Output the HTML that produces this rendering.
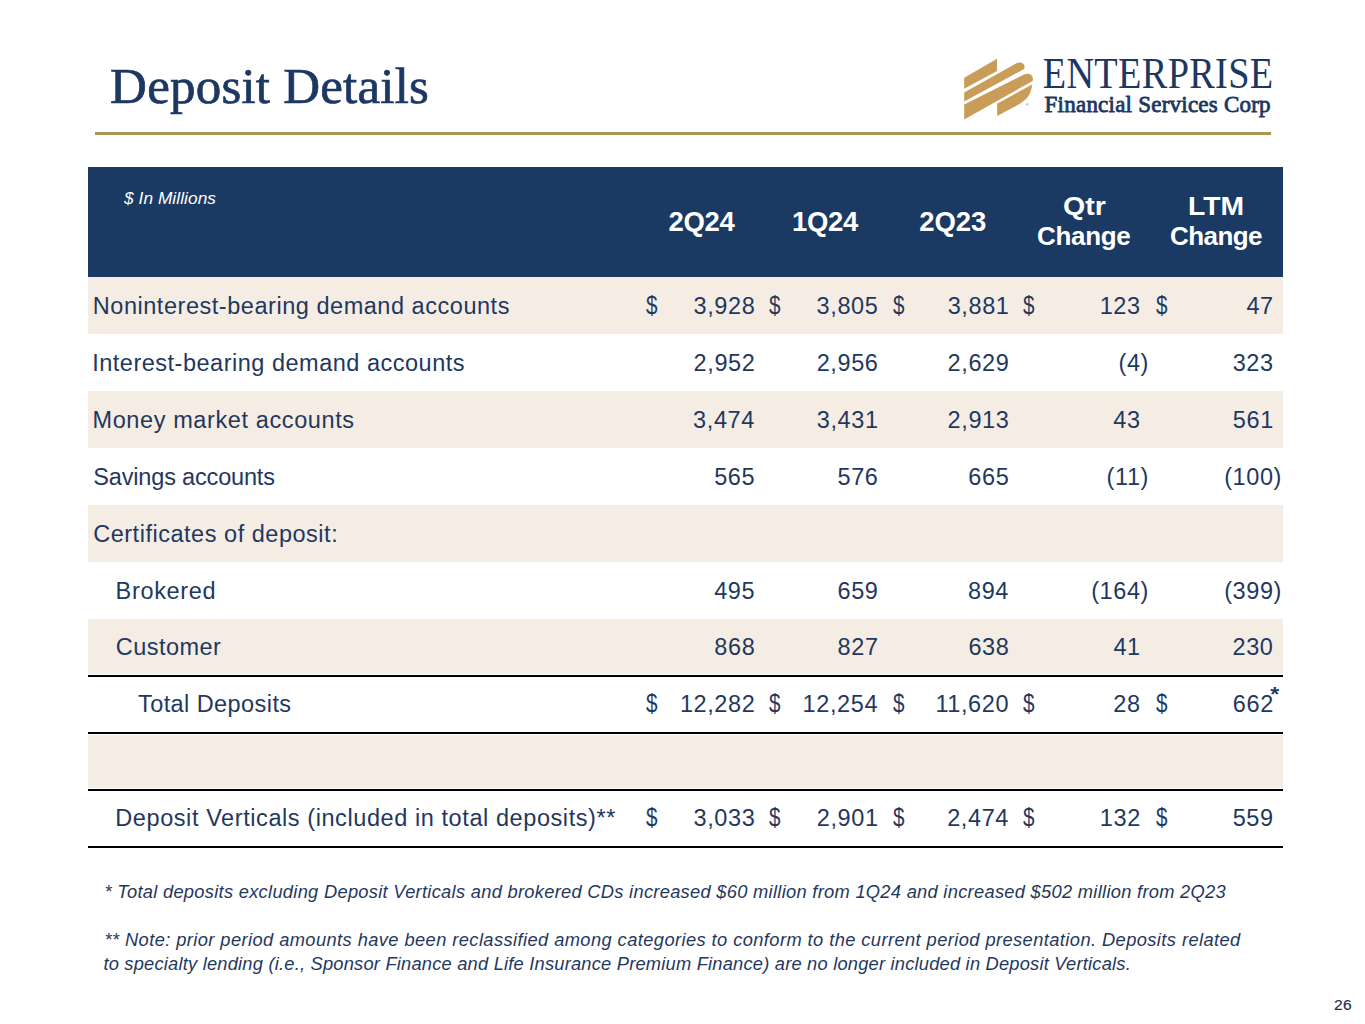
<!DOCTYPE html>
<html><head><meta charset="utf-8"><style>
html,body{margin:0;padding:0;background:#fff;}
body{width:1365px;height:1024px;position:relative;overflow:hidden;}
.t{position:absolute;white-space:nowrap;}
.r{position:absolute;}
</style></head><body>

<div class="t" style="left:110.10px;top:60.89px;font-size:51px;line-height:51px;font-family:'Liberation Serif', serif;font-weight:normal;font-style:normal;color:#1c3862;letter-spacing:0.214px;-webkit-text-stroke:0.7px #1c3862;">Deposit Details</div>
<div class="r" style="left:95px;top:132px;width:1176px;height:2.5px;background:#ab9652;"></div>
<svg class="r" style="left:960px;top:54px" width="80" height="72" viewBox="960 54 80 72">
<g fill="#c99d57">
<path d="M964.2 77.8 L997 58.8 L997 70.9 L964.2 88.8 Z"/>
<path d="M964.2 92.5 L1016 63.5 C1021 61 1026 64 1024.2 69 L964.2 101.6 Z"/>
<path d="M964.2 104.5 L1024 74.5 C1030 72 1034 76 1032.6 81 L964.2 119.5 Z"/>
<path d="M997.1 103.8 L1032.2 84.4 C1031 96 1026 100 1016 106 L997.1 115.9 Z"/>
</g><circle cx="1027.3" cy="104.3" r="1.1" fill="#b8b4ae"/></svg>
<div class="t" style="left:1042.70px;top:56.17px;font-size:38.25px;line-height:38.25px;font-family:'Liberation Serif', serif;font-weight:normal;font-style:normal;color:#1c3862;letter-spacing:0.344px;transform:scaleY(1.15);transform-origin:0 32.03px;">ENTERPRISE</div>
<div class="t" style="left:1044.60px;top:92.74px;font-size:23px;line-height:23px;font-family:'Liberation Serif', serif;font-weight:normal;font-style:normal;color:#1c3862;letter-spacing:0.227px;-webkit-text-stroke:0.8px #1c3862;">Financial Services Corp</div>
<div class="r" style="left:88px;top:167px;width:1195px;height:110px;background:#1a3963;"></div>
<div class="t" style="left:124.00px;top:189.56px;font-size:17.3px;line-height:17.3px;font-family:'Liberation Sans', sans-serif;font-weight:normal;font-style:italic;color:#fff;letter-spacing:0.058px;">$ In Millions</div>
<div class="t" style="left:668.50px;top:207.72px;font-size:27.5px;line-height:27.5px;font-family:'Liberation Sans', sans-serif;font-weight:bold;font-style:normal;color:#fff;letter-spacing:-0.300px;">2Q24</div>
<div class="t" style="left:792.00px;top:207.72px;font-size:27.5px;line-height:27.5px;font-family:'Liberation Sans', sans-serif;font-weight:bold;font-style:normal;color:#fff;letter-spacing:-0.300px;">1Q24</div>
<div class="t" style="left:919.30px;top:207.72px;font-size:27.5px;line-height:27.5px;font-family:'Liberation Sans', sans-serif;font-weight:bold;font-style:normal;color:#fff;letter-spacing:-0.133px;">2Q23</div>
<div class="t" style="left:1062.69px;top:193.19px;font-size:26px;line-height:26px;font-family:'Liberation Sans', sans-serif;font-weight:bold;font-style:normal;color:#fff;transform:scaleX(1.0987);transform-origin:0 0;">Qtr</div>
<div class="t" style="left:1037.10px;top:223.39px;font-size:26px;line-height:26px;font-family:'Liberation Sans', sans-serif;font-weight:bold;font-style:normal;color:#fff;letter-spacing:-0.360px;">Change</div>
<div class="t" style="left:1188.45px;top:193.19px;font-size:26px;line-height:26px;font-family:'Liberation Sans', sans-serif;font-weight:bold;font-style:normal;color:#fff;transform:scaleX(1.0875);transform-origin:0 0;">LTM</div>
<div class="t" style="left:1169.90px;top:223.39px;font-size:26px;line-height:26px;font-family:'Liberation Sans', sans-serif;font-weight:bold;font-style:normal;color:#fff;letter-spacing:-0.540px;">Change</div>
<div class="r" style="left:88px;top:277px;width:1195px;height:57px;background:#f5ede4;"></div>
<div class="t" style="left:92.80px;top:294.71px;font-size:23.5px;line-height:23.5px;font-family:'Liberation Sans', sans-serif;font-weight:normal;font-style:normal;color:#1f3860;letter-spacing:0.535px;">Noninterest-bearing demand accounts</div>
<div class="t" style="left:693.50px;top:294.71px;font-size:23.5px;line-height:23.5px;font-family:'Liberation Sans', sans-serif;font-weight:normal;font-style:normal;color:#1f3860;letter-spacing:0.600px;">3,928</div>
<div class="t" style="left:645.50px;top:294.71px;font-size:23.5px;line-height:23.5px;font-family:'Liberation Sans', sans-serif;font-weight:normal;font-style:normal;color:#1f3860;transform:scale(0.88,1.12);transform-origin:0.30px 19.59px;">$</div>
<div class="t" style="left:816.60px;top:294.71px;font-size:23.5px;line-height:23.5px;font-family:'Liberation Sans', sans-serif;font-weight:normal;font-style:normal;color:#1f3860;letter-spacing:0.600px;">3,805</div>
<div class="t" style="left:768.70px;top:294.71px;font-size:23.5px;line-height:23.5px;font-family:'Liberation Sans', sans-serif;font-weight:normal;font-style:normal;color:#1f3860;transform:scale(0.88,1.12);transform-origin:0.30px 19.59px;">$</div>
<div class="t" style="left:947.70px;top:294.71px;font-size:23.5px;line-height:23.5px;font-family:'Liberation Sans', sans-serif;font-weight:normal;font-style:normal;color:#1f3860;letter-spacing:0.600px;">3,881</div>
<div class="t" style="left:893.20px;top:294.71px;font-size:23.5px;line-height:23.5px;font-family:'Liberation Sans', sans-serif;font-weight:normal;font-style:normal;color:#1f3860;transform:scale(0.88,1.12);transform-origin:0.30px 19.59px;">$</div>
<div class="t" style="left:1099.70px;top:294.71px;font-size:23.5px;line-height:23.5px;font-family:'Liberation Sans', sans-serif;font-weight:normal;font-style:normal;color:#1f3860;letter-spacing:0.600px;">123</div>
<div class="t" style="left:1023.30px;top:294.71px;font-size:23.5px;line-height:23.5px;font-family:'Liberation Sans', sans-serif;font-weight:normal;font-style:normal;color:#1f3860;transform:scale(0.88,1.12);transform-origin:0.30px 19.59px;">$</div>
<div class="t" style="left:1246.40px;top:294.71px;font-size:23.5px;line-height:23.5px;font-family:'Liberation Sans', sans-serif;font-weight:normal;font-style:normal;color:#1f3860;letter-spacing:0.600px;">47</div>
<div class="t" style="left:1155.50px;top:294.71px;font-size:23.5px;line-height:23.5px;font-family:'Liberation Sans', sans-serif;font-weight:normal;font-style:normal;color:#1f3860;transform:scale(0.88,1.12);transform-origin:0.30px 19.59px;">$</div>
<div class="t" style="left:92.20px;top:351.71px;font-size:23.5px;line-height:23.5px;font-family:'Liberation Sans', sans-serif;font-weight:normal;font-style:normal;color:#1f3860;letter-spacing:0.506px;">Interest-bearing demand accounts</div>
<div class="t" style="left:693.60px;top:351.71px;font-size:23.5px;line-height:23.5px;font-family:'Liberation Sans', sans-serif;font-weight:normal;font-style:normal;color:#1f3860;letter-spacing:0.600px;">2,952</div>
<div class="t" style="left:816.70px;top:351.71px;font-size:23.5px;line-height:23.5px;font-family:'Liberation Sans', sans-serif;font-weight:normal;font-style:normal;color:#1f3860;letter-spacing:0.600px;">2,956</div>
<div class="t" style="left:947.60px;top:351.71px;font-size:23.5px;line-height:23.5px;font-family:'Liberation Sans', sans-serif;font-weight:normal;font-style:normal;color:#1f3860;letter-spacing:0.600px;">2,629</div>
<div class="t" style="left:1118.50px;top:351.71px;font-size:23.5px;line-height:23.5px;font-family:'Liberation Sans', sans-serif;font-weight:normal;font-style:normal;color:#1f3860;letter-spacing:0.600px;">(4)</div>
<div class="t" style="left:1232.70px;top:351.71px;font-size:23.5px;line-height:23.5px;font-family:'Liberation Sans', sans-serif;font-weight:normal;font-style:normal;color:#1f3860;letter-spacing:0.600px;">323</div>
<div class="r" style="left:88px;top:391px;width:1195px;height:57px;background:#f5ede4;"></div>
<div class="t" style="left:92.50px;top:408.71px;font-size:23.5px;line-height:23.5px;font-family:'Liberation Sans', sans-serif;font-weight:normal;font-style:normal;color:#1f3860;letter-spacing:0.605px;">Money market accounts</div>
<div class="t" style="left:693.10px;top:408.71px;font-size:23.5px;line-height:23.5px;font-family:'Liberation Sans', sans-serif;font-weight:normal;font-style:normal;color:#1f3860;letter-spacing:0.600px;">3,474</div>
<div class="t" style="left:816.80px;top:408.71px;font-size:23.5px;line-height:23.5px;font-family:'Liberation Sans', sans-serif;font-weight:normal;font-style:normal;color:#1f3860;letter-spacing:0.600px;">3,431</div>
<div class="t" style="left:947.60px;top:408.71px;font-size:23.5px;line-height:23.5px;font-family:'Liberation Sans', sans-serif;font-weight:normal;font-style:normal;color:#1f3860;letter-spacing:0.600px;">2,913</div>
<div class="t" style="left:1113.30px;top:408.71px;font-size:23.5px;line-height:23.5px;font-family:'Liberation Sans', sans-serif;font-weight:normal;font-style:normal;color:#1f3860;letter-spacing:0.600px;">43</div>
<div class="t" style="left:1232.80px;top:408.71px;font-size:23.5px;line-height:23.5px;font-family:'Liberation Sans', sans-serif;font-weight:normal;font-style:normal;color:#1f3860;letter-spacing:0.600px;">561</div>
<div class="t" style="left:93.30px;top:465.71px;font-size:23.5px;line-height:23.5px;font-family:'Liberation Sans', sans-serif;font-weight:normal;font-style:normal;color:#1f3860;letter-spacing:-0.167px;">Savings accounts</div>
<div class="t" style="left:714.20px;top:465.71px;font-size:23.5px;line-height:23.5px;font-family:'Liberation Sans', sans-serif;font-weight:normal;font-style:normal;color:#1f3860;letter-spacing:0.600px;">565</div>
<div class="t" style="left:837.50px;top:465.71px;font-size:23.5px;line-height:23.5px;font-family:'Liberation Sans', sans-serif;font-weight:normal;font-style:normal;color:#1f3860;letter-spacing:0.600px;">576</div>
<div class="t" style="left:968.30px;top:465.71px;font-size:23.5px;line-height:23.5px;font-family:'Liberation Sans', sans-serif;font-weight:normal;font-style:normal;color:#1f3860;letter-spacing:0.600px;">665</div>
<div class="t" style="left:1106.60px;top:465.71px;font-size:23.5px;line-height:23.5px;font-family:'Liberation Sans', sans-serif;font-weight:normal;font-style:normal;color:#1f3860;letter-spacing:0.600px;">(11)</div>
<div class="t" style="left:1224.20px;top:465.71px;font-size:23.5px;line-height:23.5px;font-family:'Liberation Sans', sans-serif;font-weight:normal;font-style:normal;color:#1f3860;letter-spacing:0.600px;">(100)</div>
<div class="r" style="left:88px;top:505px;width:1195px;height:57px;background:#f5ede4;"></div>
<div class="t" style="left:93.20px;top:522.71px;font-size:23.5px;line-height:23.5px;font-family:'Liberation Sans', sans-serif;font-weight:normal;font-style:normal;color:#1f3860;letter-spacing:0.522px;">Certificates of deposit:</div>
<div class="t" style="left:115.60px;top:579.71px;font-size:23.5px;line-height:23.5px;font-family:'Liberation Sans', sans-serif;font-weight:normal;font-style:normal;color:#1f3860;letter-spacing:0.671px;">Brokered</div>
<div class="t" style="left:714.20px;top:579.71px;font-size:23.5px;line-height:23.5px;font-family:'Liberation Sans', sans-serif;font-weight:normal;font-style:normal;color:#1f3860;letter-spacing:0.600px;">495</div>
<div class="t" style="left:837.50px;top:579.71px;font-size:23.5px;line-height:23.5px;font-family:'Liberation Sans', sans-serif;font-weight:normal;font-style:normal;color:#1f3860;letter-spacing:0.600px;">659</div>
<div class="t" style="left:968.00px;top:579.71px;font-size:23.5px;line-height:23.5px;font-family:'Liberation Sans', sans-serif;font-weight:normal;font-style:normal;color:#1f3860;letter-spacing:0.600px;">894</div>
<div class="t" style="left:1091.20px;top:579.71px;font-size:23.5px;line-height:23.5px;font-family:'Liberation Sans', sans-serif;font-weight:normal;font-style:normal;color:#1f3860;letter-spacing:0.600px;">(164)</div>
<div class="t" style="left:1224.20px;top:579.71px;font-size:23.5px;line-height:23.5px;font-family:'Liberation Sans', sans-serif;font-weight:normal;font-style:normal;color:#1f3860;letter-spacing:0.600px;">(399)</div>
<div class="r" style="left:88px;top:619px;width:1195px;height:55px;background:#f5ede4;"></div>
<div class="t" style="left:115.80px;top:635.91px;font-size:23.5px;line-height:23.5px;font-family:'Liberation Sans', sans-serif;font-weight:normal;font-style:normal;color:#1f3860;letter-spacing:0.457px;">Customer</div>
<div class="t" style="left:714.30px;top:635.91px;font-size:23.5px;line-height:23.5px;font-family:'Liberation Sans', sans-serif;font-weight:normal;font-style:normal;color:#1f3860;letter-spacing:0.600px;">868</div>
<div class="t" style="left:837.60px;top:635.91px;font-size:23.5px;line-height:23.5px;font-family:'Liberation Sans', sans-serif;font-weight:normal;font-style:normal;color:#1f3860;letter-spacing:0.600px;">827</div>
<div class="t" style="left:968.40px;top:635.91px;font-size:23.5px;line-height:23.5px;font-family:'Liberation Sans', sans-serif;font-weight:normal;font-style:normal;color:#1f3860;letter-spacing:0.600px;">638</div>
<div class="t" style="left:1113.40px;top:635.91px;font-size:23.5px;line-height:23.5px;font-family:'Liberation Sans', sans-serif;font-weight:normal;font-style:normal;color:#1f3860;letter-spacing:0.600px;">41</div>
<div class="t" style="left:1232.50px;top:635.91px;font-size:23.5px;line-height:23.5px;font-family:'Liberation Sans', sans-serif;font-weight:normal;font-style:normal;color:#1f3860;letter-spacing:0.600px;">230</div>
<div class="t" style="left:138.00px;top:692.91px;font-size:23.5px;line-height:23.5px;font-family:'Liberation Sans', sans-serif;font-weight:normal;font-style:normal;color:#1f3860;letter-spacing:0.423px;">Total Deposits</div>
<div class="t" style="left:679.90px;top:692.91px;font-size:23.5px;line-height:23.5px;font-family:'Liberation Sans', sans-serif;font-weight:normal;font-style:normal;color:#1f3860;letter-spacing:0.600px;">12,282</div>
<div class="t" style="left:645.50px;top:692.91px;font-size:23.5px;line-height:23.5px;font-family:'Liberation Sans', sans-serif;font-weight:normal;font-style:normal;color:#1f3860;transform:scale(0.88,1.12);transform-origin:0.30px 19.59px;">$</div>
<div class="t" style="left:802.60px;top:692.91px;font-size:23.5px;line-height:23.5px;font-family:'Liberation Sans', sans-serif;font-weight:normal;font-style:normal;color:#1f3860;letter-spacing:0.600px;">12,254</div>
<div class="t" style="left:768.70px;top:692.91px;font-size:23.5px;line-height:23.5px;font-family:'Liberation Sans', sans-serif;font-weight:normal;font-style:normal;color:#1f3860;transform:scale(0.88,1.12);transform-origin:0.30px 19.59px;">$</div>
<div class="t" style="left:935.40px;top:692.91px;font-size:23.5px;line-height:23.5px;font-family:'Liberation Sans', sans-serif;font-weight:normal;font-style:normal;color:#1f3860;letter-spacing:0.600px;">11,620</div>
<div class="t" style="left:893.20px;top:692.91px;font-size:23.5px;line-height:23.5px;font-family:'Liberation Sans', sans-serif;font-weight:normal;font-style:normal;color:#1f3860;transform:scale(0.88,1.12);transform-origin:0.30px 19.59px;">$</div>
<div class="t" style="left:1113.30px;top:692.91px;font-size:23.5px;line-height:23.5px;font-family:'Liberation Sans', sans-serif;font-weight:normal;font-style:normal;color:#1f3860;letter-spacing:0.600px;">28</div>
<div class="t" style="left:1023.30px;top:692.91px;font-size:23.5px;line-height:23.5px;font-family:'Liberation Sans', sans-serif;font-weight:normal;font-style:normal;color:#1f3860;transform:scale(0.88,1.12);transform-origin:0.30px 19.59px;">$</div>
<div class="t" style="left:1232.80px;top:692.91px;font-size:23.5px;line-height:23.5px;font-family:'Liberation Sans', sans-serif;font-weight:normal;font-style:normal;color:#1f3860;letter-spacing:0.600px;">662</div>
<div class="t" style="left:1155.50px;top:692.91px;font-size:23.5px;line-height:23.5px;font-family:'Liberation Sans', sans-serif;font-weight:normal;font-style:normal;color:#1f3860;transform:scale(0.88,1.12);transform-origin:0.30px 19.59px;">$</div>
<div class="r" style="left:88px;top:735px;width:1195px;height:53px;background:#f5ede4;"></div>
<div class="t" style="left:115.30px;top:806.91px;font-size:23.5px;line-height:23.5px;font-family:'Liberation Sans', sans-serif;font-weight:normal;font-style:normal;color:#1f3860;letter-spacing:0.579px;">Deposit Verticals (included in total deposits)**</div>
<div class="t" style="left:693.50px;top:806.91px;font-size:23.5px;line-height:23.5px;font-family:'Liberation Sans', sans-serif;font-weight:normal;font-style:normal;color:#1f3860;letter-spacing:0.600px;">3,033</div>
<div class="t" style="left:645.50px;top:806.91px;font-size:23.5px;line-height:23.5px;font-family:'Liberation Sans', sans-serif;font-weight:normal;font-style:normal;color:#1f3860;transform:scale(0.88,1.12);transform-origin:0.30px 19.59px;">$</div>
<div class="t" style="left:816.80px;top:806.91px;font-size:23.5px;line-height:23.5px;font-family:'Liberation Sans', sans-serif;font-weight:normal;font-style:normal;color:#1f3860;letter-spacing:0.600px;">2,901</div>
<div class="t" style="left:768.70px;top:806.91px;font-size:23.5px;line-height:23.5px;font-family:'Liberation Sans', sans-serif;font-weight:normal;font-style:normal;color:#1f3860;transform:scale(0.88,1.12);transform-origin:0.30px 19.59px;">$</div>
<div class="t" style="left:947.20px;top:806.91px;font-size:23.5px;line-height:23.5px;font-family:'Liberation Sans', sans-serif;font-weight:normal;font-style:normal;color:#1f3860;letter-spacing:0.600px;">2,474</div>
<div class="t" style="left:893.20px;top:806.91px;font-size:23.5px;line-height:23.5px;font-family:'Liberation Sans', sans-serif;font-weight:normal;font-style:normal;color:#1f3860;transform:scale(0.88,1.12);transform-origin:0.30px 19.59px;">$</div>
<div class="t" style="left:1099.80px;top:806.91px;font-size:23.5px;line-height:23.5px;font-family:'Liberation Sans', sans-serif;font-weight:normal;font-style:normal;color:#1f3860;letter-spacing:0.600px;">132</div>
<div class="t" style="left:1023.30px;top:806.91px;font-size:23.5px;line-height:23.5px;font-family:'Liberation Sans', sans-serif;font-weight:normal;font-style:normal;color:#1f3860;transform:scale(0.88,1.12);transform-origin:0.30px 19.59px;">$</div>
<div class="t" style="left:1232.70px;top:806.91px;font-size:23.5px;line-height:23.5px;font-family:'Liberation Sans', sans-serif;font-weight:normal;font-style:normal;color:#1f3860;letter-spacing:0.600px;">559</div>
<div class="t" style="left:1155.50px;top:806.91px;font-size:23.5px;line-height:23.5px;font-family:'Liberation Sans', sans-serif;font-weight:normal;font-style:normal;color:#1f3860;transform:scale(0.88,1.12);transform-origin:0.30px 19.59px;">$</div>
<div class="t" style="left:1270.30px;top:682.53px;font-size:23px;line-height:23px;font-family:'Liberation Sans', sans-serif;font-weight:bold;font-style:normal;color:#1f3860;transform:scaleY(0.9);transform-origin:0 8px;">*</div>
<div class="r" style="left:88px;top:675px;width:1195px;height:2px;background:#000;"></div>
<div class="r" style="left:88px;top:732px;width:1195px;height:2px;background:#000;"></div>
<div class="r" style="left:88px;top:789px;width:1195px;height:2px;background:#000;"></div>
<div class="r" style="left:88px;top:846px;width:1195px;height:2px;background:#000;"></div>
<div class="t" style="left:104.40px;top:882.71px;font-size:18.3px;line-height:18.3px;font-family:'Liberation Sans', sans-serif;font-weight:normal;font-style:italic;color:#1f3860;letter-spacing:0.290px;">* Total deposits excluding Deposit Verticals and brokered CDs increased $60 million from 1Q24 and increased $502 million from 2Q23</div>
<div class="t" style="left:104.40px;top:931.31px;font-size:18.3px;line-height:18.3px;font-family:'Liberation Sans', sans-serif;font-weight:normal;font-style:italic;color:#1f3860;letter-spacing:0.414px;">** Note: prior period amounts have been reclassified among categories to conform to the current period presentation. Deposits related</div>
<div class="t" style="left:103.40px;top:954.81px;font-size:18.3px;line-height:18.3px;font-family:'Liberation Sans', sans-serif;font-weight:normal;font-style:italic;color:#1f3860;letter-spacing:0.212px;">to specialty lending (i.e., Sponsor Finance and Life Insurance Premium Finance) are no longer included in Deposit Verticals.</div>
<div class="t" style="left:1334.00px;top:996.88px;font-size:15.5px;line-height:15.5px;font-family:'Liberation Sans', sans-serif;font-weight:normal;font-style:normal;color:#1d2f55;letter-spacing:0.500px;-webkit-text-stroke:0.2px #1d2f55;">26</div>
</body></html>
